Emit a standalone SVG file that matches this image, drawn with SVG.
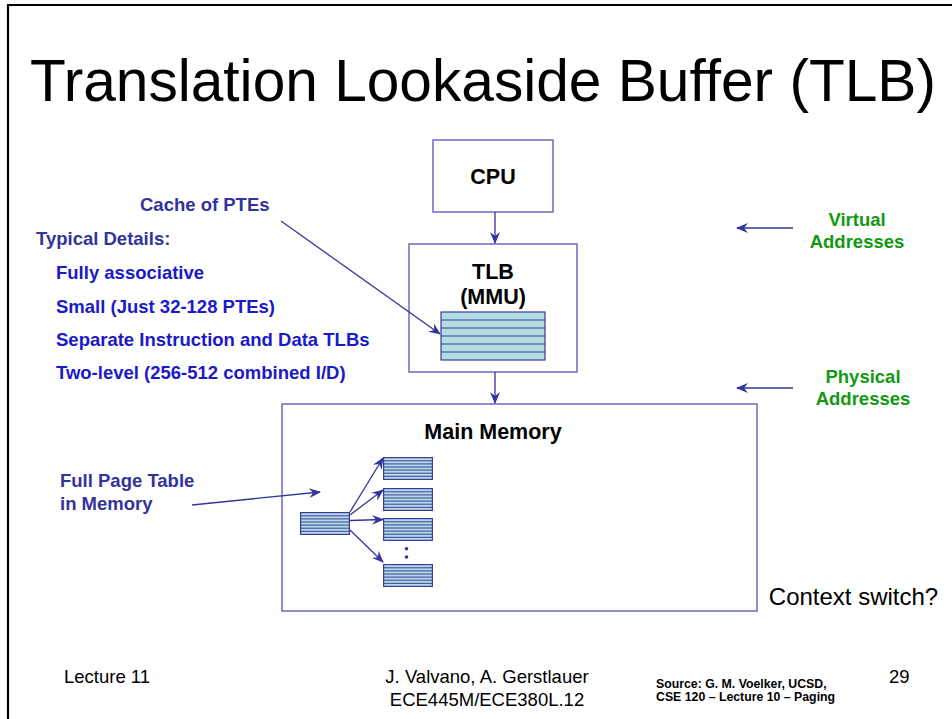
<svg xmlns="http://www.w3.org/2000/svg" width="952" height="719" viewBox="0 0 952 719">
<style>
  text { font-family: "Liberation Sans", Arial, sans-serif; }
  .box { fill: #ffffff; stroke: #6b6bbd; stroke-width: 1.5; }
  .lbl { font-weight: bold; font-size: 21.5px; fill: #000000; text-anchor: middle; }
  .note { font-weight: bold; font-size: 18.5px; fill: #333399; }
  .item { font-weight: bold; font-size: 18.5px; fill: #1a1ac8; }
  .green { font-weight: bold; font-size: 18.5px; fill: #119911; text-anchor: middle; }
  .conn { stroke: #34349c; stroke-width: 1.3; fill: none; }
  .tab { fill: #b3dde0; stroke: #3a3aa0; stroke-width: 1.2; }
  .row { stroke: #3a3aa0; stroke-width: 1.2; }
  .foot { font-size: 18.5px; fill: #000000; }
  .src { font-size: 12.3px; font-weight: bold; fill: #000000; }
</style>
<defs>
  <marker id="arr" viewBox="0 0 12 10" refX="11" refY="5" markerWidth="12" markerHeight="10" markerUnits="userSpaceOnUse" orient="auto">
    <path d="M0,0 L12,5 L0,10 L4,5 Z" fill="#34349c"/>
  </marker>
  <symbol id="ptab" viewBox="0 0 50 23" width="50" height="23">
    <rect x="0.6" y="0.6" width="48.8" height="21.8" fill="#b3dde0" stroke="#3a3aa0" stroke-width="1.2"/>
    <g stroke="#3a3aa0" stroke-width="1">
      <line x1="0" y1="3.8" x2="50" y2="3.8"/>
      <line x1="0" y1="6.9" x2="50" y2="6.9"/>
      <line x1="0" y1="10" x2="50" y2="10"/>
      <line x1="0" y1="13.1" x2="50" y2="13.1"/>
      <line x1="0" y1="16.2" x2="50" y2="16.2"/>
      <line x1="0" y1="19.3" x2="50" y2="19.3"/>
    </g>
  </symbol>
</defs>

<rect width="952" height="719" fill="#ffffff"/>
<!-- slide border -->
<path d="M8,719 L8,5 L952,5" fill="none" stroke="#000000" stroke-width="2.2"/>

<text x="30" y="101" font-size="59" fill="#000000" textLength="906" lengthAdjust="spacingAndGlyphs">Translation Lookaside Buffer (TLB)</text>

<g id="cpu">
  <rect class="box" x="433" y="140" width="120" height="72"/>
  <text class="lbl" x="493" y="184">CPU</text>
</g>

<g id="tlb">
  <rect class="box" x="409" y="244" width="168" height="128"/>
  <text class="lbl" x="493" y="279">TLB</text>
  <text class="lbl" x="493" y="304">(MMU)</text>
  <rect class="tab" x="441" y="312" width="104" height="48"/>
  <g class="row">
    <line x1="441" y1="320" x2="545" y2="320"/>
    <line x1="441" y1="328" x2="545" y2="328"/>
    <line x1="441" y1="336" x2="545" y2="336"/>
    <line x1="441" y1="344" x2="545" y2="344"/>
    <line x1="441" y1="352" x2="545" y2="352"/>
  </g>
</g>

<g id="main-memory">
  <rect class="box" x="282" y="404" width="475" height="207"/>
  <text class="lbl" x="493" y="439">Main Memory</text>
  <use href="#ptab" x="300" y="512" width="50" height="23"/>
  <use href="#ptab" x="383" y="457" width="50" height="23"/>
  <use href="#ptab" x="383" y="488" width="50" height="23"/>
  <use href="#ptab" x="383" y="518" width="50" height="23"/>
  <use href="#ptab" x="383" y="564" width="50" height="23"/>
  <circle cx="406.5" cy="548.7" r="1.8" fill="#34349c"/>
  <circle cx="406.5" cy="557" r="1.8" fill="#34349c"/>
</g>

<g id="connectors">
  <line class="conn" x1="495" y1="212" x2="495" y2="243" marker-end="url(#arr)"/>
  <line class="conn" x1="495" y1="372" x2="495" y2="403" marker-end="url(#arr)"/>
  <line class="conn" x1="281" y1="221" x2="440" y2="334" marker-end="url(#arr)"/>
  <line class="conn" x1="192" y1="505" x2="320" y2="492" marker-end="url(#arr)"/>
  <line class="conn" x1="350" y1="512" x2="383" y2="458" marker-end="url(#arr)"/>
  <line class="conn" x1="350" y1="515" x2="383" y2="490" marker-end="url(#arr)"/>
  <line class="conn" x1="350" y1="520.5" x2="383" y2="519.5" marker-end="url(#arr)"/>
  <line class="conn" x1="350" y1="530" x2="383" y2="562" marker-end="url(#arr)"/>
  <line class="conn" x1="793" y1="228" x2="737" y2="228" marker-end="url(#arr)"/>
  <line class="conn" x1="793" y1="388" x2="737" y2="388" marker-end="url(#arr)"/>
</g>

<g id="labels">
  <text class="note" x="140" y="211">Cache of PTEs</text>
  <text class="note" x="36" y="245">Typical Details:</text>
  <text class="item" x="56" y="279">Fully associative</text>
  <text class="item" x="56" y="313">Small (Just 32-128 PTEs)</text>
  <text class="item" x="56" y="346">Separate Instruction and Data TLBs</text>
  <text class="item" x="56" y="379">Two-level (256-512 combined I/D)</text>
  <text class="note" x="60" y="487">Full Page Table</text>
  <text class="note" x="60" y="510">in Memory</text>
  <text class="green" x="857" y="226">Virtual</text>
  <text class="green" x="857" y="248">Addresses</text>
  <text class="green" x="863" y="383">Physical</text>
  <text class="green" x="863" y="405">Addresses</text>
  <text x="853.5" y="605" font-size="24" fill="#000000" text-anchor="middle">Context switch?</text>
</g>

<g id="footer">
  <text class="foot" x="64" y="683">Lecture 11</text>
  <text class="foot" x="487" y="683" text-anchor="middle">J. Valvano, A. Gerstlauer</text>
  <text class="foot" x="487" y="706" text-anchor="middle">ECE445M/ECE380L.12</text>
  <text class="src" x="656" y="688">Source: G. M. Voelker, UCSD,</text>
  <text class="src" x="656" y="701">CSE 120 – Lecture 10 – Paging</text>
  <text class="foot" x="889" y="683">29</text>
</g>
</svg>
